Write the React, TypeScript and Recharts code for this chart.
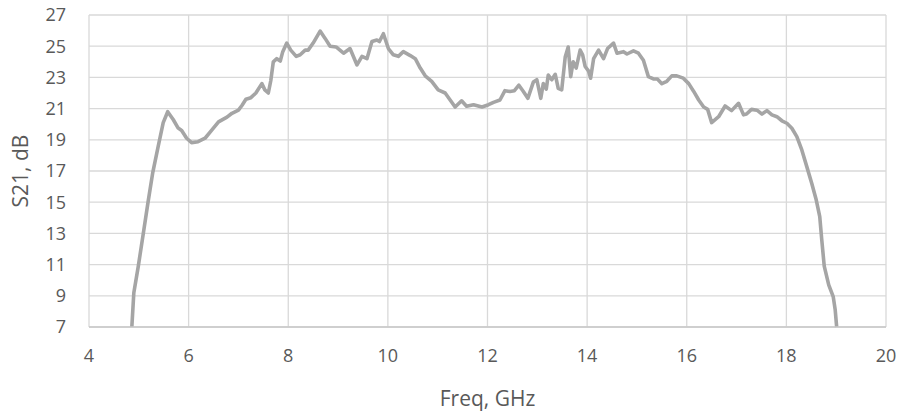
import { LineChart, Line, XAxis, YAxis, CartesianGrid, Label } from "recharts";

const freqGHz = [
  4.86, 4.9, 4.99, 5.09, 5.19, 5.28, 5.39, 5.49, 5.58, 5.69, 5.79, 5.86, 5.96, 6.06, 6.19, 6.33, 6.46, 6.6,
  6.77, 6.87, 7.0, 7.07, 7.15, 7.25, 7.35, 7.47, 7.53, 7.6, 7.65, 7.7, 7.77, 7.84, 7.89, 7.97, 8.05, 8.16,
  8.24, 8.34, 8.4, 8.5, 8.64, 8.74, 8.84, 8.96, 9.11, 9.24, 9.38, 9.48, 9.58, 9.68, 9.78, 9.83, 9.91, 10.01,
  10.11, 10.21, 10.31, 10.45, 10.55, 10.65, 10.75, 10.88, 11.01, 11.15, 11.25, 11.35, 11.48, 11.58, 11.72,
  11.89, 12.02, 12.12, 12.25, 12.35, 12.45, 12.54, 12.63, 12.72, 12.81, 12.92, 12.99, 13.07, 13.12, 13.18,
  13.22, 13.29, 13.36, 13.42, 13.49, 13.56, 13.62, 13.67, 13.72, 13.78, 13.86, 13.91, 13.96, 14.03, 14.07,
  14.13, 14.23, 14.33, 14.41, 14.53, 14.6, 14.73, 14.8, 14.93, 15.03, 15.13, 15.23, 15.33, 15.41, 15.5,
  15.6, 15.7, 15.8, 15.93, 16.04, 16.14, 16.24, 16.34, 16.42, 16.5, 16.64, 16.77, 16.9, 17.04, 17.14, 17.2,
  17.3, 17.41, 17.51, 17.61, 17.71, 17.81, 17.91, 18.01, 18.11, 18.21, 18.31, 18.41, 18.51, 18.6, 18.67,
  18.71, 18.76, 18.85, 18.94, 18.98, 19.01,
];
const s21dB = [
  7.0, 9.2, 10.9, 13.0, 15.1, 16.9, 18.6, 20.1, 20.8, 20.3, 19.75, 19.6, 19.1, 18.82, 18.88, 19.1, 19.6, 20.15,
  20.45, 20.7, 20.9, 21.2, 21.6, 21.7, 22.0, 22.6, 22.2, 22.0, 22.8, 24.0, 24.2, 24.05, 24.65, 25.2, 24.75, 24.35,
  24.45, 24.75, 24.75, 25.2, 25.97, 25.5, 25.0, 24.95, 24.55, 24.85, 23.8, 24.35, 24.2, 25.3, 25.4, 25.3, 25.8, 24.85,
  24.45, 24.35, 24.65, 24.4, 24.2, 23.6, 23.1, 22.75, 22.2, 22.0, 21.55, 21.1, 21.5, 21.15, 21.25,
  21.1, 21.25, 21.4, 21.55, 22.15, 22.1, 22.15, 22.5, 22.1, 21.66, 22.7, 22.85, 21.66, 22.6, 22.25,
  23.15, 22.85, 23.2, 22.3, 22.2, 24.3, 24.95, 23.05, 24.0, 23.6, 24.75, 24.45, 23.7, 23.4, 22.95,
  24.2, 24.75, 24.2, 24.85, 25.2, 24.55, 24.65, 24.5, 24.7, 24.55, 24.1, 23.05, 22.9, 22.9, 22.6,
  22.75, 23.1, 23.1, 22.95, 22.6, 22.1, 21.55, 21.1, 20.95, 20.1, 20.48, 21.17, 20.87, 21.34, 20.6, 20.65,
  20.95, 20.9, 20.65, 20.87, 20.6, 20.48, 20.22, 20.06, 19.74, 19.2, 18.35, 17.28, 16.2, 15.14, 14.07,
  12.6, 10.9, 9.7, 8.95, 8.1, 7.0,
];
const xTicks = [4, 6, 8, 10, 12, 14, 16, 18, 20];
const yTicks = [7, 9, 11, 13, 15, 17, 19, 21, 23, 25, 27];

const data = freqGHz.map((f, i) => ({ f, s: s21dB[i] }));

const FONT = "'Open Sans', sans-serif";
const TEXT = "#595959";

export default function App() {
  return (
    <div style={{ width: 901, height: 414, background: "#fff", fontFamily: FONT }}>
      <style>{"body{margin:0}"}</style>
      <LineChart width={901} height={414} data={data} margin={{ top: 15, right: 15, left: 0, bottom: 0 }}>
        <CartesianGrid stroke="#D9D9D9" strokeWidth={1.3} />
        <XAxis
          type="number"
          dataKey="f"
          domain={[4, 20]}
          ticks={xTicks}
          height={87}
          tickLine={false}
          tickSize={0}
          tickMargin={22}
          axisLine={{ stroke: "#C8C8C8", strokeWidth: 1.3 }}
          tick={{ fill: TEXT, fontSize: 18, fontFamily: FONT }}
        >
          <Label
            content={({ viewBox }: any) => (
              <text
                x={viewBox.x + viewBox.width / 2}
                y={viewBox.y + 79}
                textAnchor="middle"
                fill={TEXT}
                fontSize={21}
                fontFamily={FONT}
              >
                Freq, GHz
              </text>
            )}
          />
        </XAxis>
        <YAxis
          type="number"
          domain={[7, 27]}
          ticks={yTicks}
          width={89}
          tickLine={false}
          tickSize={0}
          tickMargin={23}
          axisLine={false}
          tick={{ fill: TEXT, fontSize: 18, fontFamily: FONT }}
        >
          <Label
            content={({ viewBox }: any) => {
              const cx = viewBox.x + 21;
              const cy = viewBox.y + viewBox.height / 2;
              return (
                <text
                  x={cx}
                  y={cy}
                  dy="0.35em"
                  transform={`rotate(-90 ${cx} ${cy})`}
                  textAnchor="middle"
                  fill={TEXT}
                  fontSize={21}
                  fontFamily={FONT}
                >
                  S21, dB
                </text>
              );
            }}
          />
        </YAxis>
        <Line
          type="linear"
          dataKey="s"
          stroke="#A5A5A5"
          strokeWidth={3.6}
          strokeLinejoin="round"
          dot={false}
          isAnimationActive={false}
        />
      </LineChart>
    </div>
  );
}
